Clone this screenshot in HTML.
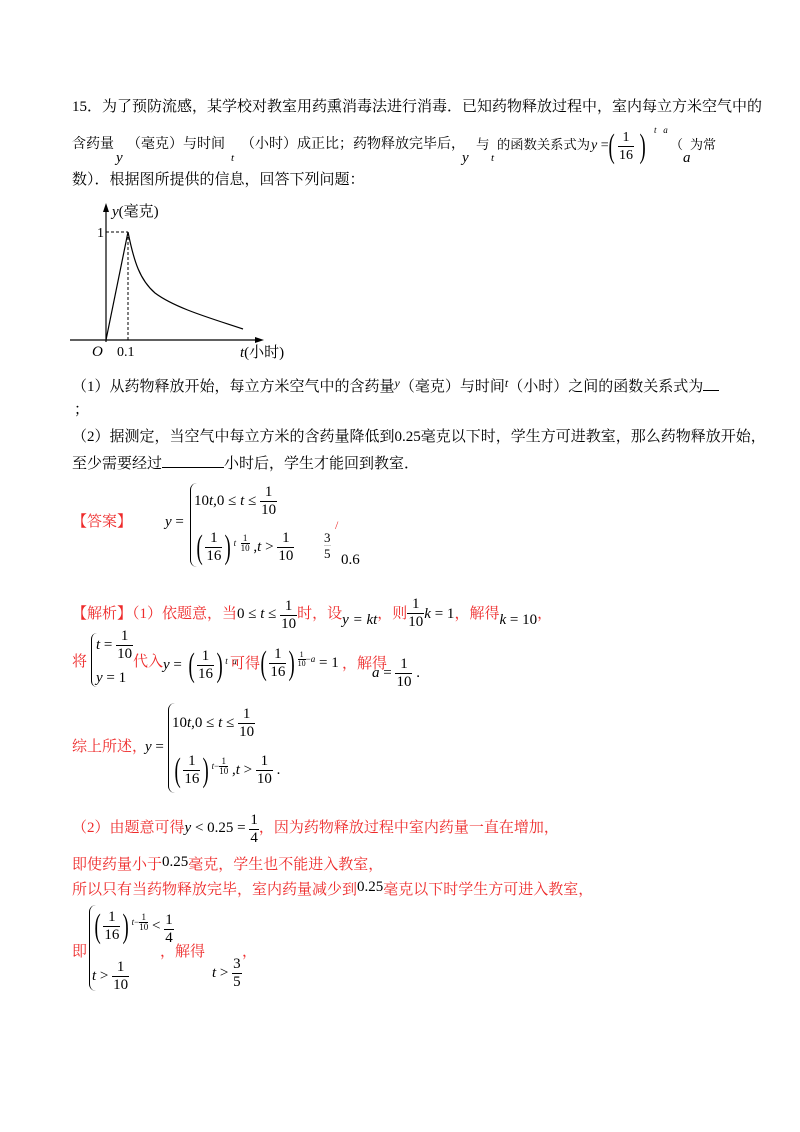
<!DOCTYPE html>
<html><head><meta charset="utf-8">
<style>
body{margin:0;background:#fff;}
#pg{position:relative;width:800px;height:1132px;overflow:hidden;font-family:"Liberation Serif","Noto Serif CJK SC","Noto Sans CJK SC",serif;font-size:15px;color:#000;}
.a{position:absolute;white-space:nowrap;line-height:20px;}
.r{color:#ee2a2a;}
.m{font-family:"Liberation Serif",serif;color:#000;}
i{font-style:italic;}
.f{display:inline-block;vertical-align:middle;text-align:center;line-height:17px;font-size:15px;}
.f span{display:block;padding:0 1px;}
.f .n{border-bottom:1px solid #000;}
.sf{display:inline-block;vertical-align:middle;text-align:center;line-height:9px;font-size:9px;}
.sf .n{border-bottom:1px solid #000;display:block}
.p{font-size:34px;font-weight:100;vertical-align:middle;line-height:34px;transform:scaleX(.55);display:inline-block;}
.sup{font-size:9px;vertical-align:top;position:relative;top:-4px;}
.br{position:absolute;border-left:1.2px solid #000;border-radius:8px 0 0 8px;}
</style></head><body><div id="pg">

<div class="a" style="left:72px;top:97px;">15．为了预防流感，某学校对教室用药熏消毒法进行消毒．已知药物释放过程中，室内每立方米空气中的</div>

<div class="a" style="left:72px;top:135px;font-size:14px;">含药量</div>
<div class="a m" style="left:116px;top:148px;"><i>y</i></div>
<div class="a" style="left:127px;top:135px;font-size:14px;">（毫克）与时间</div>
<div class="a m" style="left:231px;top:148px;font-size:11px;"><i>t</i></div>
<div class="a" style="left:241px;top:135px;font-size:14px;">（小时）成正比；药物释放完毕后，</div>
<div class="a m" style="left:462px;top:148px;"><i>y</i></div>
<div class="a" style="left:476px;top:135px;font-size:13.5px;">与</div>
<div class="a m" style="left:491px;top:148px;font-size:11px;"><i>t</i></div>
<div class="a" style="left:497px;top:135px;font-size:13.3px;">的函数关系式为</div>
<div class="a m" style="left:591px;top:136px;font-size:14px;"><i>y</i> =</div>
<div class="a m" style="left:606px;top:126px;line-height:40px;"><span class="p">(</span></div>
<div class="a m" style="left:618px;top:128px;line-height:36px;"><span class="f" style="font-size:14px"><span class="n">1</span><span>16</span></span></div>
<div class="a m" style="left:637px;top:126px;line-height:40px;"><span class="p">)</span></div>
<div class="a m" style="left:654px;top:124px;font-size:9px;line-height:12px;"><i>t</i>&nbsp;&nbsp; <i>a</i></div>
<div class="a" style="left:670px;top:135px;font-size:13px;">（</div>
<div class="a m" style="left:683px;top:148px;"><i>a</i></div>
<div class="a" style="left:690px;top:135px;font-size:13px;">为常</div>

<div class="a" style="left:72px;top:170px;">数）．根据图所提供的信息，回答下列问题：</div>

<svg style="position:absolute;left:0;top:0" width="800" height="380">
<line x1="106" y1="342" x2="106" y2="207" stroke="#000" stroke-width="1.2"/>
<polygon points="106,203 103,212 109,212" fill="#000"/>
<line x1="70" y1="340" x2="258" y2="340" stroke="#000" stroke-width="1.2"/>
<polygon points="264,340 255,337 255,343" fill="#000"/>
<line x1="106" y1="232" x2="128" y2="232" stroke="#000" stroke-dasharray="3,2"/>
<line x1="128" y1="232" x2="128" y2="340" stroke="#000" stroke-dasharray="3,2"/>
<polyline fill="none" stroke="#000" stroke-width="1.2" points="106,340 128,232"/>
<path fill="none" stroke="#000" stroke-width="1.2" d="M128,232 C134,262 140,280 155,293 C175,308 210,318 243,329"/>
<text x="92" y="356" font-family="Liberation Serif" font-style="italic" font-size="15">O</text>
<text x="117" y="356" font-family="Liberation Serif" font-size="14">0.1</text>
<text x="97" y="237" font-family="Liberation Serif" font-size="14">1</text>
<text x="112" y="216" font-family="Liberation Serif,Noto Serif CJK SC" font-size="15"><tspan font-style="italic">y</tspan>(毫克)</text>
<text x="240" y="357" font-family="Liberation Serif,Noto Serif CJK SC" font-size="15"><tspan font-style="italic">t</tspan>(小时)</text>
</svg>

<div class="a" style="left:72px;top:373px;">（1）从药物释放开始，每立方米空气中的含药量<i class="m" style="font-size:12px;vertical-align:4px">y</i>（毫克）与时间<i class="m" style="font-size:12px;vertical-align:4px">t</i>（小时）之间的函数关系式为<span style="display:inline-block;width:16px;border-bottom:1.5px solid #000;height:14px"></span></div>
<div class="a" style="left:74px;top:400px;">；</div>
<div class="a" style="left:72px;top:427px;">（2）据测定，当空气中每立方米的含药量降低到<span class="m">0.25</span>毫克以下时，学生方可进教室，那么药物释放开始，</div>
<div class="a" style="left:72px;top:453px;">至少需要经过<span style="display:inline-block;width:62px;border-bottom:1px solid #000;height:14px"></span>小时后，学生才能回到教室．</div>

<!-- answer -->
<div class="a r" style="left:72px;top:512px;">【答案】</div>
<div class="a m" style="left:165px;top:512px;"><i>y</i> =</div>
<div class="br" style="left:190px;top:483px;width:6px;height:84px;"></div>
<div class="a m" style="left:194px;top:484px;line-height:34px;">10<i>t</i>,0 ≤ <i>t</i> ≤ <span class="f"><span class="n">1</span><span>10</span></span></div>
<div class="a m" style="left:194px;top:527px;line-height:40px;"><span class="p">(</span><span class="f"><span class="n">1</span><span>16</span></span><span class="p">)</span><span class="sup"><i>t</i>&nbsp; <span class="sf"><span class="n">1</span><span>10</span></span></span> ,<i>t</i> &gt; <span class="f"><span class="n">1</span><span>10</span></span></div>
<div class="a r" style="left:335px;top:515px;font-size:12px;">/</div>
<div class="a m" style="left:324px;top:530px;"><span class="sf" style="font-size:13px;line-height:15px"><span class="n" style="border-color:#ccc">3</span><span>5</span></span></div>
<div class="a m" style="left:341px;top:550px;">0.6</div>

<div class="a r" style="left:72px;top:596px;">【解析】（1）依题意，当<span class="m">0 ≤ <i>t</i> ≤ </span><span class="f m" style="vertical-align:-10px"><span class="n">1</span><span>10</span></span>时，设<i class="m" style="vertical-align:-6px">y = kt</i>，则<span class="f m" style="vertical-align:-8px"><span class="n">1</span><span>10</span></span><i class="m">k</i><span class="m"> = 1</span>，解得<i class="m" style="vertical-align:-6px">k</i><span class="m" style="vertical-align:-6px"> = 10</span>，</div>

<div class="a r" style="left:72px;top:652px;">将</div>
<div class="br" style="left:91px;top:633px;width:5px;height:54px;"></div>
<div class="a m" style="left:96px;top:628px;line-height:30px;"><i>t</i> = <span class="f"><span class="n">1</span><span>10</span></span></div>
<div class="a m" style="left:96px;top:668px;"><i>y</i> = 1</div>
<div class="a r" style="left:133px;top:652px;">代入</div>
<div class="a m" style="left:163px;top:645px;line-height:40px;"><i>y</i> = <span class="p">(</span><span class="f"><span class="n">1</span><span>16</span></span><span class="p">)</span><span class="sup"><i>t</i>&nbsp; <i>a</i></span></div>
<div class="a r" style="left:230px;top:654px;">可得</div>
<div class="a m" style="left:258px;top:643px;line-height:40px;"><span class="p">(</span><span class="f"><span class="n">1</span><span>16</span></span><span class="p">)</span><span class="sup"><span class="sf" style="font-size:8px;line-height:8px"><span class="n">1</span><span>10</span></span>−<i>a</i></span> = 1</div>
<div class="a r" style="left:342px;top:654px;">，解得</div>
<div class="a m" style="left:372px;top:655px;line-height:36px;"><i>a</i> = <span class="f"><span class="n">1</span><span>10</span></span> .</div>

<div class="a r" style="left:72px;top:737px;">综上所述，</div>
<div class="a m" style="left:145px;top:737px;"><i>y</i> =</div>
<div class="br" style="left:168px;top:703px;width:6px;height:90px;"></div>
<div class="a m" style="left:172px;top:706px;line-height:34px;">10<i>t</i>,0 ≤ <i>t</i> ≤ <span class="f"><span class="n">1</span><span>10</span></span></div>
<div class="a m" style="left:172px;top:750px;line-height:40px;"><span class="p">(</span><span class="f"><span class="n">1</span><span>16</span></span><span class="p">)</span><span class="sup"><i>t</i>−<span class="sf"><span class="n">1</span><span>10</span></span></span> ,<i>t</i> &gt; <span class="f"><span class="n">1</span><span>10</span></span> .</div>

<div class="a r" style="left:72px;top:812px;">（2）由题意可得<span class="m"><i>y</i> &lt; 0.25 = </span><span class="f m" style="vertical-align:-10px"><span class="n">1</span><span>4</span></span>，因为药物释放过程中室内药量一直在增加，</div>
<div class="a r" style="left:72px;top:852px;">即使药量小于<span class="m" style="vertical-align:3px">0.25</span>毫克，学生也不能进入教室，</div>
<div class="a r" style="left:72px;top:877px;">所以只有当药物释放完毕，室内药量减少到<span class="m" style="vertical-align:3px">0.25</span>毫克以下时学生方可进入教室，</div>

<div class="a r" style="left:72px;top:942px;">即</div>
<div class="br" style="left:89px;top:905px;width:6px;height:86px;"></div>
<div class="a m" style="left:92px;top:906px;line-height:40px;"><span class="p">(</span><span class="f"><span class="n">1</span><span>16</span></span><span class="p">)</span><span class="sup"><i>t</i>−<span class="sf"><span class="n">1</span><span>10</span></span></span> &lt; <span class="f" style="vertical-align:-12px"><span class="n">1</span><span>4</span></span></div>
<div class="a r" style="left:160px;top:942px;">，解得</div>
<div class="a r" style="left:242px;top:942px;">，</div>
<div class="a m" style="left:92px;top:958px;line-height:36px;"><i>t</i> &gt; <span class="f"><span class="n">1</span><span>10</span></span></div>
<div class="a m" style="left:212px;top:955px;line-height:36px;"><i>t</i> &gt; <span class="f"><span class="n">3</span><span>5</span></span></div>

</div></body></html>
